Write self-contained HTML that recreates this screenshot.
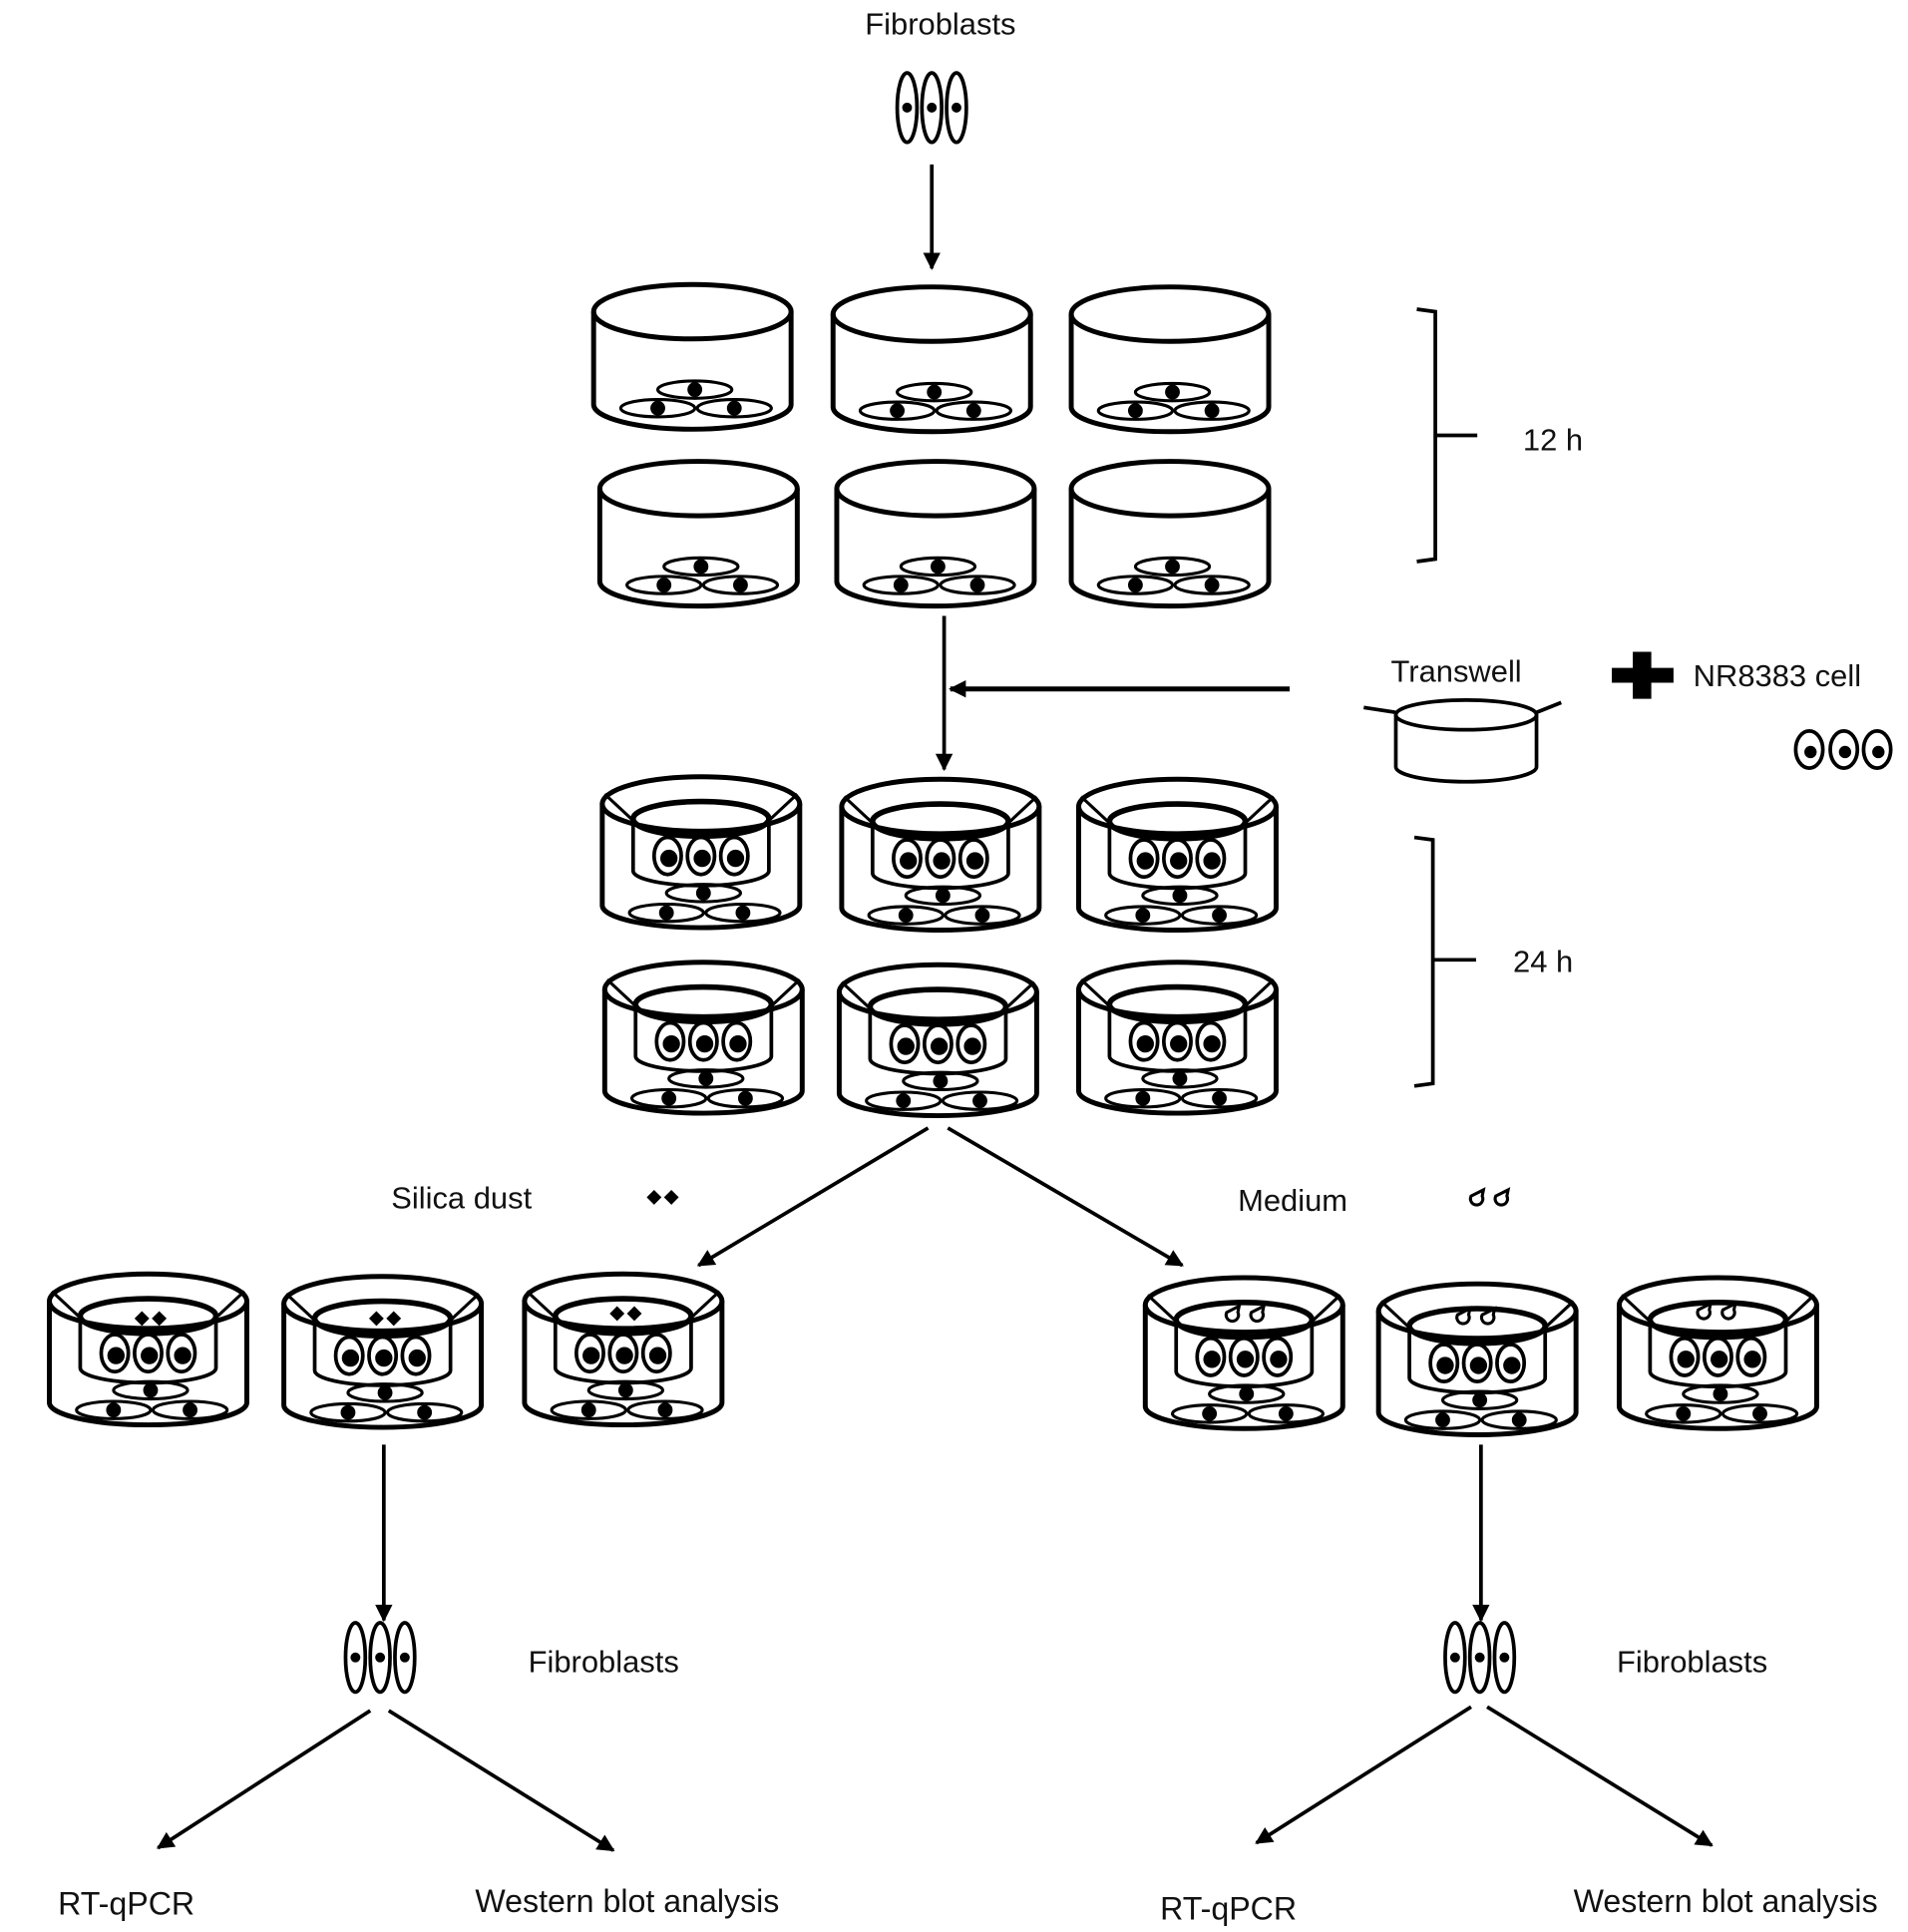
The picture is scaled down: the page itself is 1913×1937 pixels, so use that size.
<!DOCTYPE html>
<html><head><meta charset="utf-8"><style>
html,body{margin:0;padding:0;background:#fff}
svg{display:block}
text{font-family:"Liberation Sans",Arial,sans-serif;fill:#111}
</style></head><body>
<svg width="1913" height="1937" viewBox="0 0 1546 1562" preserveAspectRatio="none" xmlns="http://www.w3.org/2000/svg">
<defs>
<marker id="ah" viewBox="0 0 10 10" refX="9" refY="5" markerWidth="18" markerHeight="14" orient="auto" markerUnits="userSpaceOnUse"><path d="M0,0 L10,5 L0,10 z" fill="#000"/></marker>
<g id="fc"><ellipse rx="30" ry="7" fill="none" stroke="#000" stroke-width="2.5"/><circle r="4" fill="#000"/></g>
<g id="dish" fill="none" stroke="#000" stroke-width="4">
<ellipse cx="0" cy="0" rx="80" ry="22"/>
<path d="M-80 0 L-80 75 A80 20 0 0 0 80 75 L80 0"/>
<use href="#fc" x="2" y="63"/><use href="#fc" x="-28" y="78"/><use href="#fc" x="34" y="78"/>
</g>
<g id="eye"><ellipse rx="11" ry="15" fill="#fff" stroke="#000" stroke-width="3"/><circle cx="1" cy="2" r="5" fill="#000"/></g>
<g id="tw" fill="none" stroke="#000" stroke-width="4">
<ellipse cx="0" cy="0" rx="80" ry="22"/>
<path d="M-80 0 L-80 82 A80 18 0 0 0 80 82 L80 0"/>
<ellipse cx="0" cy="12" rx="55" ry="14" stroke-width="4.5"/>
<path d="M-55 12 L-55 54 A55 12 0 0 0 55 54 L55 12" stroke-width="3"/>
<path d="M-78 -8 L-50 18 M78 -8 L50 18" stroke-width="2.5"/>
<use href="#eye" x="-27" y="42"/><use href="#eye" x="0" y="42"/><use href="#eye" x="27" y="42"/>
<use href="#fc" x="2" y="72"/><use href="#fc" x="-28" y="88"/><use href="#fc" x="34" y="88"/>
</g>
<g id="sp"><ellipse rx="8" ry="28" fill="none" stroke="#000" stroke-width="3"/><circle r="4" fill="#000"/></g>
<g id="spin"><use href="#sp" x="-20"/><use href="#sp"/><use href="#sp" x="20"/></g>
<g id="dia"><path d="M-14 0 l6-6 l6 6 l-6 6z M0 0 l6-6 l6 6 l-6 6z" fill="#000"/></g>
<g id="drop" fill="none" stroke="#000" stroke-width="2.5"><path d="M-14 -3 a5 5 0 1 0 9 0 l1-5 z"/><path d="M6 -3 a5 5 0 1 0 9 0 l1-5 z"/></g>
</defs>

<text x="762" y="28" font-size="25" text-anchor="middle">Fibroblasts</text>
<use href="#spin" x="755" y="87"/>
<line x1="755" y1="133" x2="755" y2="217" stroke="#000" stroke-width="3" marker-end="url(#ah)"/>

<use href="#dish" x="561" y="252"/><use href="#dish" x="755" y="254"/><use href="#dish" x="948" y="254"/>
<use href="#dish" x="566" y="395"/><use href="#dish" x="758" y="395"/><use href="#dish" x="948" y="395"/>

<path d="M1148 250 L1163 252 L1163 452 L1148 454 M1163 352 L1197 352" fill="none" stroke="#000" stroke-width="3"/>
<text x="1234" y="364" font-size="25">12 h</text>

<line x1="765" y1="498" x2="765" y2="622" stroke="#000" stroke-width="3" marker-end="url(#ah)"/>
<line x1="1045" y1="557" x2="770" y2="557" stroke="#000" stroke-width="4" marker-end="url(#ah)"/>

<text x="1180" y="551" font-size="25" text-anchor="middle">Transwell</text>
<g fill="none" stroke="#000" stroke-width="3">
<ellipse cx="1188" cy="578" rx="57" ry="12"/>
<path d="M1131 578 L1131 620 A57 12 0 0 0 1245 620 L1245 578"/>
<path d="M1105 572 L1131 576 M1265 568 L1245 576"/>
</g>
<path d="M1323 527 h15 v13 h18 v12 h-18 v13 h-15 v-13 h-17 v-12 h17z" fill="#000"/>
<text x="1372" y="555" font-size="25">NR8383 cell</text>
<use href="#eye" x="1466" y="606"/><use href="#eye" x="1494" y="606"/><use href="#eye" x="1521" y="606"/>

<use href="#tw" x="568" y="650"/><use href="#tw" x="762" y="652"/><use href="#tw" x="954" y="652"/>
<use href="#tw" x="570" y="800"/><use href="#tw" x="760" y="802"/><use href="#tw" x="954" y="800"/>

<path d="M1146 677 L1161 679 L1161 876 L1146 878 M1161 776 L1196 776" fill="none" stroke="#000" stroke-width="3"/>
<text x="1226" y="786" font-size="25">24 h</text>

<line x1="752" y1="912" x2="566" y2="1023" stroke="#000" stroke-width="3" marker-end="url(#ah)"/>
<line x1="768" y1="912" x2="958" y2="1023" stroke="#000" stroke-width="3" marker-end="url(#ah)"/>

<text x="317" y="977" font-size="25">Silica dust</text>
<use href="#dia" x="538" y="968"/>
<text x="1003" y="979" font-size="25">Medium</text>
<use href="#drop" x="1206" y="970"/>

<use href="#tw" x="120" y="1052"/><use href="#tw" x="310" y="1054"/><use href="#tw" x="505" y="1052"/>
<use href="#dia" x="123" y="1066"/><use href="#dia" x="313" y="1066"/><use href="#dia" x="508" y="1062"/>
<use href="#tw" x="1008" y="1055"/><use href="#tw" x="1197" y="1060"/><use href="#tw" x="1392" y="1055"/>
<use href="#drop" x="1008" y="1064"/><use href="#drop" x="1195" y="1066"/><use href="#drop" x="1390" y="1062"/>

<line x1="311" y1="1168" x2="311" y2="1310" stroke="#000" stroke-width="3" marker-end="url(#ah)"/>
<line x1="1200" y1="1168" x2="1200" y2="1310" stroke="#000" stroke-width="3" marker-end="url(#ah)"/>

<use href="#spin" x="308" y="1340"/>
<text x="428" y="1352" font-size="25">Fibroblasts</text>
<use href="#spin" x="1199" y="1340"/>
<text x="1310" y="1352" font-size="25">Fibroblasts</text>

<line x1="300" y1="1383" x2="128" y2="1494" stroke="#000" stroke-width="3" marker-end="url(#ah)"/>
<line x1="315" y1="1383" x2="497" y2="1496" stroke="#000" stroke-width="3" marker-end="url(#ah)"/>
<line x1="1192" y1="1380" x2="1018" y2="1490" stroke="#000" stroke-width="3" marker-end="url(#ah)"/>
<line x1="1205" y1="1380" x2="1387" y2="1492" stroke="#000" stroke-width="3" marker-end="url(#ah)"/>

<text x="47" y="1548" font-size="26">RT-qPCR</text>
<text x="385" y="1546" font-size="26">Western blot analysis</text>
<text x="940" y="1552" font-size="26">RT-qPCR</text>
<text x="1275" y="1546" font-size="26">Western blot analysis</text>
</svg>
</body></html>
